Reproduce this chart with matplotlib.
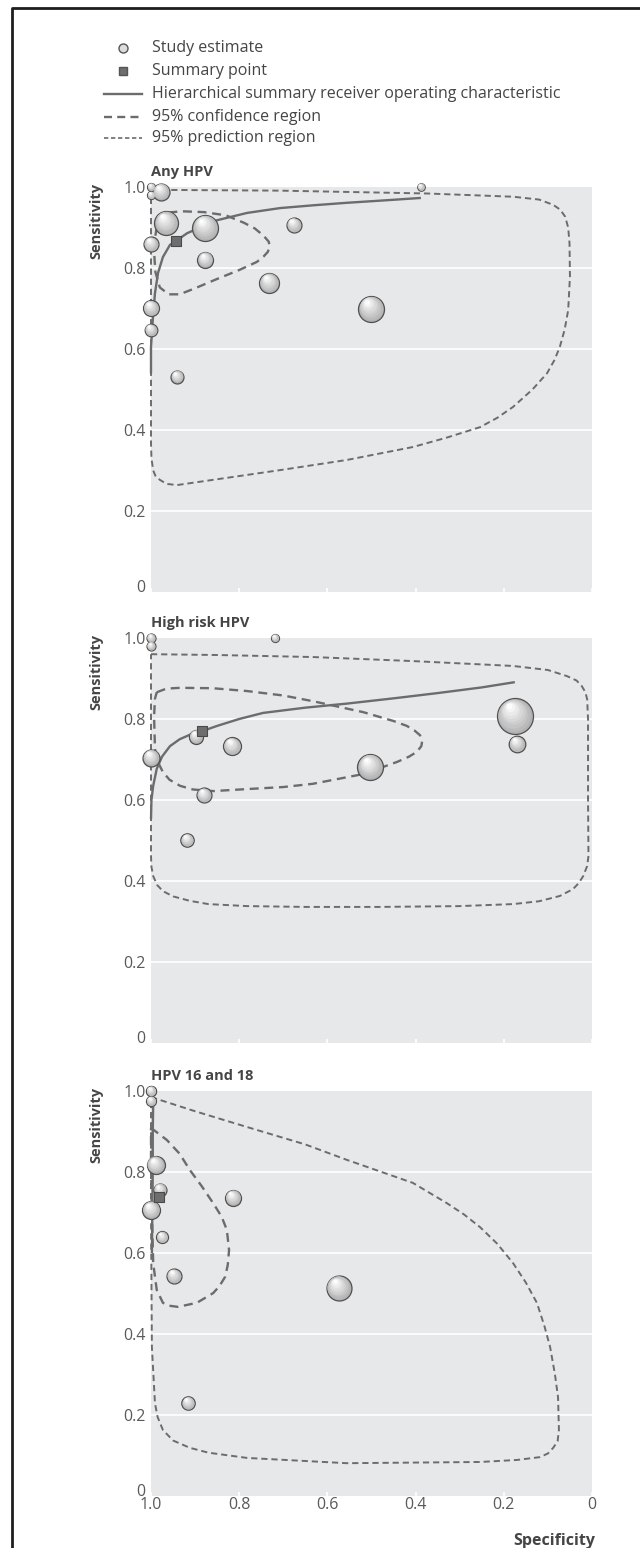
import numpy as np
import matplotlib
matplotlib.use("Agg")
import matplotlib.pyplot as plt
from matplotlib.lines import Line2D
from matplotlib.transforms import offset_copy, ScaledTranslation
from matplotlib.colors import to_rgb

plt.rcParams['font.family'] = ['Open Sans', 'DejaVu Sans']

titles = ["Any HPV", "High risk HPV", "HPV 16 and 18"]

# study estimates: specificity, sensitivity, study weight
any_spec = [1.0, 1.0, 0.977, 0.388, 0.966, 0.877, 1.0, 0.877, 0.676, 0.732, 0.501, 1.0, 1.0, 0.941]
any_sens = [1.0, 0.98, 0.988, 1.0, 0.911, 0.899, 0.859, 0.820, 0.906, 0.763, 0.699, 0.701, 0.647, 0.531]
any_wt = [16, 16, 72, 14, 144, 169, 56, 64, 56, 100, 169, 64, 40, 42]
any_summary = (0.943, 0.867)

hr_spec = [1.0, 1.0, 0.719, 1.0, 0.898, 0.816, 0.880, 0.918, 0.503, 0.175, 0.170]
hr_sens = [1.0, 0.98, 1.0, 0.704, 0.756, 0.733, 0.612, 0.501, 0.681, 0.807, 0.738]
hr_wt = [20, 20, 16, 72, 49, 81, 56, 45, 169, 324, 69]
hr_summary = (0.884, 0.770)

hpv1618_spec = [1.0, 1.0, 1.0, 0.989, 0.980, 1.0, 0.975, 0.948, 0.814, 0.574, 0.916]
hpv1618_sens = [1.0, 1.0, 0.975, 0.817, 0.756, 0.706, 0.639, 0.543, 0.736, 0.513, 0.229]
hpv1618_wt = [25, 25, 25, 81, 42, 81, 36, 56, 64, 156, 45]
hpv1618_summary = (0.982, 0.738)

# HSROC curves (specificity, sensitivity)
any_hsroc = [(1.0, 0.540), (1.0, 0.605), (0.996, 0.672), (0.991, 0.738), (0.984, 0.788),
             (0.973, 0.827), (0.957, 0.857), (0.943, 0.867), (0.918, 0.886), (0.850, 0.918),
             (0.782, 0.936), (0.707, 0.948), (0.630, 0.955), (0.556, 0.961), (0.470, 0.967),
             (0.388, 0.973)]
hr_hsroc = [(1.0, 0.553), (0.999, 0.600), (0.995, 0.635), (0.987, 0.677), (0.975, 0.707),
            (0.957, 0.733), (0.935, 0.750), (0.910, 0.762), (0.884, 0.770), (0.850, 0.783),
            (0.800, 0.800), (0.746, 0.815), (0.650, 0.828), (0.556, 0.838), (0.450, 0.851),
            (0.350, 0.864), (0.250, 0.878), (0.175, 0.891)]
hpv1618_hsroc = [(0.998, 0.60), (0.997, 0.70), (0.996, 0.80), (0.996, 0.90), (0.995, 0.97)]

# 95% confidence regions
any_conf = [(0.990, 0.880), (0.985, 0.915), (0.970, 0.936), (0.930, 0.940), (0.880, 0.938),
            (0.830, 0.930), (0.790, 0.912), (0.765, 0.898), (0.745, 0.880), (0.733, 0.865),
            (0.731, 0.852), (0.735, 0.840), (0.745, 0.828), (0.760, 0.815), (0.800, 0.795),
            (0.850, 0.773), (0.900, 0.750), (0.935, 0.735), (0.960, 0.735), (0.980, 0.752),
            (0.990, 0.790), (0.993, 0.840), (0.990, 0.880)]
hr_conf = [(0.987, 0.866), (0.965, 0.875), (0.934, 0.877), (0.860, 0.876), (0.782, 0.869),
           (0.700, 0.858), (0.633, 0.844), (0.519, 0.817), (0.450, 0.795), (0.420, 0.783),
           (0.403, 0.772), (0.390, 0.760), (0.385, 0.746), (0.387, 0.733), (0.397, 0.719),
           (0.415, 0.707), (0.442, 0.694), (0.519, 0.664), (0.633, 0.640), (0.700, 0.632),
           (0.782, 0.627), (0.859, 0.622), (0.905, 0.626), (0.934, 0.635), (0.958, 0.650),
           (0.973, 0.669), (0.985, 0.695), (0.991, 0.726), (0.993, 0.807), (0.991, 0.850),
           (0.987, 0.866)]
hpv1618_conf = [(1.0, 0.909), (0.964, 0.879), (0.935, 0.845), (0.912, 0.805), (0.885, 0.765),
                (0.859, 0.723), (0.840, 0.690), (0.828, 0.657), (0.823, 0.607), (0.826, 0.570),
                (0.832, 0.541), (0.845, 0.518), (0.859, 0.501), (0.896, 0.477), (0.939, 0.467),
                (0.960, 0.470), (0.973, 0.477), (0.987, 0.509), (0.995, 0.575), (0.998, 0.699),
                (1.0, 0.822), (1.0, 0.909)]

# 95% prediction regions
any_pred = [(1.0, 0.993), (0.707, 0.991), (0.375, 0.984), (0.179, 0.976), (0.120, 0.969),
            (0.088, 0.956), (0.072, 0.944), (0.061, 0.927), (0.054, 0.900), (0.051, 0.861),
            (0.050, 0.779), (0.054, 0.696), (0.062, 0.648), (0.073, 0.605), (0.085, 0.573),
            (0.102, 0.540), (0.135, 0.500), (0.179, 0.457), (0.215, 0.430), (0.254, 0.407),
            (0.330, 0.381), (0.406, 0.358), (0.556, 0.326), (0.707, 0.301), (0.859, 0.277),
            (0.941, 0.264), (0.965, 0.267), (0.980, 0.277), (0.990, 0.287), (0.995, 0.300),
            (0.999, 0.330), (1.0, 0.368), (1.0, 0.993)]
hr_pred = [(1.0, 0.960), (0.850, 0.958), (0.633, 0.953), (0.406, 0.943), (0.179, 0.931),
           (0.100, 0.921), (0.057, 0.906), (0.035, 0.895), (0.023, 0.881), (0.015, 0.866),
           (0.011, 0.849), (0.009, 0.800), (0.009, 0.600), (0.008, 0.462), (0.011, 0.437),
           (0.020, 0.412), (0.030, 0.395), (0.043, 0.380), (0.073, 0.363), (0.120, 0.350),
           (0.179, 0.343), (0.300, 0.338), (0.481, 0.336), (0.650, 0.336), (0.782, 0.338),
           (0.870, 0.343), (0.912, 0.351), (0.950, 0.362), (0.973, 0.375), (0.986, 0.390),
           (0.995, 0.412), (0.999, 0.435), (1.0, 0.462), (1.0, 0.960)]
hpv1618_pred = [(1.0, 0.985), (0.900, 0.950), (0.782, 0.911), (0.650, 0.868), (0.556, 0.830),
                (0.406, 0.773), (0.329, 0.723), (0.290, 0.695), (0.254, 0.664), (0.215, 0.623),
                (0.179, 0.575), (0.150, 0.527), (0.125, 0.477), (0.108, 0.420), (0.095, 0.368),
                (0.084, 0.300), (0.077, 0.244), (0.075, 0.163), (0.078, 0.135), (0.088, 0.119),
                (0.100, 0.105), (0.118, 0.096), (0.170, 0.089), (0.254, 0.084), (0.556, 0.081),
                (0.782, 0.094), (0.870, 0.107), (0.912, 0.119), (0.950, 0.137), (0.973, 0.163),
                (0.985, 0.195), (0.991, 0.229), (0.998, 0.368), (1.0, 0.700), (1.0, 0.985)]

panels = [
    (any_spec, any_sens, any_wt, any_summary, any_hsroc, any_conf, any_pred),
    (hr_spec, hr_sens, hr_wt, hr_summary, hr_hsroc, hr_conf, hr_pred),
    (hpv1618_spec, hpv1618_sens, hpv1618_wt, hpv1618_summary, hpv1618_hsroc, hpv1618_conf, hpv1618_pred),
]

LINE = '#6c6c6c'
BG = '#e7e8ea'
TXT = '#454545'
TICK = '#5a5a5a'

fig = plt.figure(figsize=(6.4, 15.48), dpi=100)
W, H = 640.0, 1548.0


def bubbles(ax, xs, ys, wts):
    lo = np.array(to_rgb('#b2b2b2'))
    hi = np.array(to_rgb('#fdfdfd'))
    for x, y, w in zip(xs, ys, wts):
        d = np.sqrt(w) * 2 * 0.72
        ax.scatter(x, y, s=d ** 2, color=lo, edgecolor='#505050', linewidth=0.9,
                   zorder=4, clip_on=False)
        n = 8
        for k in range(1, n + 1):
            f = 1 - k * 0.105
            c = lo + (hi - lo) * (k / n)
            tr = offset_copy(ax.transData, fig=fig, x=-0.02 * k * d, y=0.035 * k * d, units='points')
            ax.scatter(x, y, s=(d * f) ** 2, color=c, linewidth=0, transform=tr,
                       zorder=4 + k * 0.01, clip_on=False)


tops = [187, 638, 1091]
axes = []
for i, (spec, sens, wt, summ, hsroc, conf, pred) in enumerate(panels):
    top = tops[i]
    ax = fig.add_axes([151 / W, 1 - (top + 405) / H, 441 / W, 405 / H])
    axes.append(ax)
    ax.set_facecolor(BG)
    ax.set_xlim(1.0, 0.0)
    ax.set_ylim(0.0, 1.0)
    for s in ax.spines.values():
        s.set_visible(False)
    ax.set_yticks([0, 0.2, 0.4, 0.6, 0.8, 1.0])
    ax.set_yticklabels(["0", "0.2", "0.4", "0.6", "0.8", "1.0"])
    ax.set_xticks([1.0, 0.8, 0.6, 0.4, 0.2, 0])
    ax.set_xticklabels(["1.0", "0.8", "0.6", "0.4", "0.2", "0"])
    ax.tick_params(axis='y', length=0, pad=4, labelsize=11.5, labelcolor=TICK)
    ax.tick_params(axis='x', direction='in', length=3, width=1.2, color='white',
                   pad=1, labelsize=11.5, labelcolor=TICK, labelbottom=(i == 2))
    # the zero label sits a little above the baseline
    zero_lab = ax.get_yticklabels()[0]
    zero_lab.set_transform(zero_lab.get_transform() + ScaledTranslation(0, 6 / 100, fig.dpi_scale_trans))
    for g in [0.2, 0.4, 0.6, 0.8]:
        ax.axhline(g, color='white', linewidth=1.2, zorder=1)

    px, py = zip(*pred)
    ax.plot(px, py, color=LINE, linewidth=1.4, linestyle=(0, (3.2, 2.0)), zorder=2, clip_on=False)
    cx, cy = zip(*conf)
    ax.plot(cx, cy, color=LINE, linewidth=1.7, linestyle=(0, (3.8, 2.4)), zorder=2, clip_on=False)
    hx, hy = zip(*hsroc)
    ax.plot(hx, hy, color=LINE, linewidth=1.7, solid_capstyle='butt', zorder=3, clip_on=False)

    bubbles(ax, spec, sens, wt)
    ax.scatter([summ[0]], [summ[1]], marker='s', s=60, color='#6e6e6e', edgecolor='#4a4a4a',
               linewidth=0.8, zorder=6, clip_on=False)

    ax.text(0.0, 1.037, titles[i], transform=ax.transAxes, ha='left', va='center',
            fontsize=10.5, fontweight='bold', color=TXT)
    ax.text(-0.124, 0.915, "Sensitivity", transform=ax.transAxes, ha='center', va='center',
            rotation=90, fontsize=10.5, fontweight='bold', color=TXT)

axes[2].text(1.007, -0.111, "Specificity", transform=axes[2].transAxes, ha='right', va='center',
             fontsize=11.5, fontweight='bold', color=TXT)

# legend
rows = [48, 71, 94, 117, 138]
labels = ["Study estimate", "Summary point",
          "Hierarchical summary receiver operating characteristic",
          "95% confidence region", "95% prediction region"]
fy = [1 - r / H for r in rows]
x0, x1, xm = 104 / W, 142 / W, 123 / W
fig.add_artist(Line2D([xm], [fy[0]], marker='o', markersize=6.5, markerfacecolor='#dcdcdc',
                      markeredgecolor='#555555', markeredgewidth=1.0, linestyle='none',
                      transform=fig.transFigure))
fig.add_artist(Line2D([xm], [fy[1]], marker='s', markersize=5.5, markerfacecolor='#6e6e6e',
                      markeredgecolor='#555555', linestyle='none', transform=fig.transFigure))
fig.add_artist(Line2D([x0, x1], [fy[2], fy[2]], color=LINE, linewidth=1.7,
                      transform=fig.transFigure))
fig.add_artist(Line2D([x0, x1], [fy[3], fy[3]], color=LINE, linewidth=1.7,
                      linestyle=(0, (3.4, 2.2)), transform=fig.transFigure))
fig.add_artist(Line2D([x0, x1], [fy[4], fy[4]], color=LINE, linewidth=1.2,
                      linestyle=(0, (2.6, 1.6)), transform=fig.transFigure))
for y, lab in zip(fy, labels):
    fig.text(152 / W, y, lab, ha='left', va='center', fontsize=11.5, color=TXT)

# page frame (top and left edges)
fig.add_artist(Line2D([12 / W, 12 / W, 1.0], [0.0, 1 - 8 / H, 1 - 8 / H], color='#1e1e1e',
                      linewidth=2.0, solid_capstyle='projecting', transform=fig.transFigure))

fig.savefig("out.png", dpi=100)
